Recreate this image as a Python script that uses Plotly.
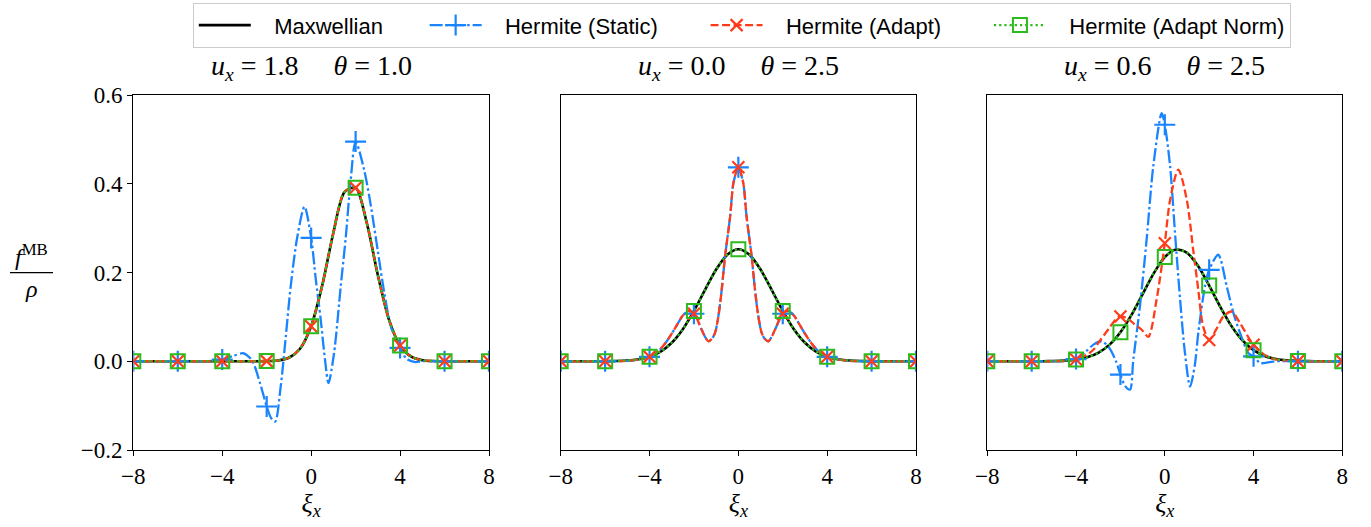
import plotly.graph_objects as go

# ---------------- data ----------------
PANEL_TITLES = ["<i>u</i><sub><i>x</i></sub> = 1.8\u2003\u00a0<i>θ</i> = 1.0",
                "<i>u</i><sub><i>x</i></sub> = 0.0\u2003\u00a0<i>θ</i> = 2.5",
                "<i>u</i><sub><i>x</i></sub> = 0.6\u2003\u00a0<i>θ</i> = 2.5"]
SERIES_NAMES = ["Maxwellian", "Hermite (Static)", "Hermite (Adapt)", "Hermite (Adapt Norm)"]
X_TICKS = [-8, -4, 0, 4, 8]
Y_TICKS = [-0.2, 0.0, 0.2, 0.4, 0.6]

# common half-unit grid for the smooth Maxwellian-like curves
GRID_X = [-8, -7.5, -7, -6.5, -6, -5.5, -5, -4.5, -4, -3.5, -3, -2.5, -2, -1.5, -1, -0.5,
          0, 0.5, 1, 1.5, 2, 2.5, 3, 3.5, 4, 4.5, 5, 5.5, 6, 6.5, 7, 7.5, 8]

# panel 1 : u=1.8, theta=1.0
MAXW_1 = [0, 0, 0, 0, 0, 0, 0, 0, 0, 0, 0, 0, 0.0003, 0.0017, 0.0079, 0.0283,
          0.0790, 0.1714, 0.2897, 0.3813, 0.3910, 0.3122, 0.1942, 0.0940, 0.0355, 0.0104,
          0.0024, 0.0004, 0, 0, 0, 0, 0]
ADAPT_1 = [0, 0, 0, 0, 0, 0, 0, 0, 0, 0, 0, 0, 0.0003, 0.0017, 0.0079, 0.0283,
           0.0790, 0.1714, 0.2897, 0.3813, 0.3910, 0.3122, 0.1942, 0.0940, 0.0355, 0.0104,
           0.0024, 0.0004, 0, 0, 0, 0, 0]
NORM_1 = [0, 0, 0, 0, 0, 0, 0, 0, 0, 0, 0, 0, 0.0003, 0.0017, 0.0079, 0.0283,
          0.0790, 0.1714, 0.2897, 0.3813, 0.3910, 0.3122, 0.1942, 0.0940, 0.0355, 0.0104,
          0.0024, 0.0004, 0, 0, 0, 0, 0]
STAT_1_X = [-8, -6, -5, -4.5, -4, -3.5, -3.05, -2.8, -2.6, -2.3, -2.0, -1.8, -1.62, -1.37,
            -1.14, -0.92, -0.62, -0.3, 0, 0.21, 0.43, 0.62, 0.78, 1.03, 1.33, 1.56, 1.78,
            2.0, 2.38, 2.69, 2.99, 3.29, 3.59, 4.0, 4.3, 4.7, 5, 6, 8]
STAT_1_Y = [0, 0, 0, 0.001, 0.004, 0.012, 0.018, 0.01, -0.004, -0.049, -0.102, -0.128,
            -0.136, -0.057, 0.056, 0.169, 0.281, 0.348, 0.278, 0.184, 0.094, 0.005, -0.049,
            0.018, 0.169, 0.281, 0.409, 0.495, 0.432, 0.349, 0.251, 0.154, 0.078, 0.03,
            0.005, -0.002, 0, 0, 0]

# panel 2 : u=0.0, theta=2.5
MAXW_2 = [0, 0, 0, 0, 0.0002, 0.0006, 0.0017, 0.0044, 0.0103, 0.0218, 0.0417, 0.0723,
          0.1134, 0.1609, 0.2066, 0.2400, 0.2523, 0.2400, 0.2066, 0.1609, 0.1134, 0.0723,
          0.0417, 0.0218, 0.0103, 0.0044, 0.0017, 0.0006, 0.0002, 0, 0, 0, 0]
NORM_2 = [0, 0, 0, 0, 0.0002, 0.0006, 0.0017, 0.0044, 0.0103, 0.0218, 0.0417, 0.0723,
          0.1134, 0.1609, 0.2066, 0.2400, 0.2523, 0.2400, 0.2066, 0.1609, 0.1134, 0.0723,
          0.0417, 0.0218, 0.0103, 0.0044, 0.0017, 0.0006, 0.0002, 0, 0, 0, 0]
STAT_2_X = [-8, -6, -5, -4.5, -4, -3.6, -3.3, -3, -2.75, -2.5, -2.25, -2, -1.65, -1.5,
            -1.35, -1.2, -1.05, -0.9, -0.75, -0.6, -0.37, -0.22, 0, 0.22, 0.37, 0.6, 0.75,
            0.9, 1.05, 1.2, 1.35, 1.5, 1.65, 2, 2.25, 2.5, 2.75, 3, 3.3, 3.6, 4, 4.5, 5, 6, 8]
STAT_2_Y = [0, 0, 0.001, 0.004, 0.01, 0.023, 0.04, 0.062, 0.083, 0.103, 0.113, 0.107,
            0.071, 0.055, 0.045, 0.05, 0.064, 0.101, 0.161, 0.236, 0.326, 0.402, 0.437,
            0.402, 0.326, 0.236, 0.161, 0.101, 0.064, 0.05, 0.045, 0.055, 0.071, 0.107,
            0.113, 0.103, 0.083, 0.062, 0.04, 0.023, 0.01, 0.004, 0.001, 0, 0]
ADAPT_2_X = list(STAT_2_X)
ADAPT_2_Y = list(STAT_2_Y)

# panel 3 : u=0.6, theta=2.5
MAXW_3 = [0, 0, 0, 0, 0, 0.0001, 0.0005, 0.0014, 0.0037, 0.0088, 0.0189, 0.0369,
          0.0653, 0.1045, 0.1512, 0.1981, 0.2348, 0.2518, 0.2444, 0.2146, 0.1705, 0.1226,
          0.0797, 0.0469, 0.0250, 0.0120, 0.0052, 0.0021, 0.0007, 0.0002, 0, 0, 0]
NORM_3 = [0, 0, 0, 0, 0, 0.0001, 0.0005, 0.0014, 0.0037, 0.0088, 0.0189, 0.0369,
          0.0653, 0.1045, 0.1512, 0.1981, 0.2348, 0.2518, 0.2444, 0.2146, 0.1705, 0.1226,
          0.0797, 0.0469, 0.0250, 0.0120, 0.0052, 0.0021, 0.0007, 0.0002, 0, 0, 0]
STAT_3_X = [-8, -6, -5, -4.5, -4, -3.6, -3.2, -2.84, -2.5, -2.2, -2.0, -1.8, -1.57, -1.42,
            -1.12, -0.82, -0.52, -0.14, 0, 0.24, 0.46, 0.69, 0.91, 1.14, 1.35, 1.51, 1.81,
            2.0, 2.41, 2.79, 3.09, 3.39, 3.77, 4.0, 4.3, 4.7, 5, 6, 8]
STAT_3_Y = [0, 0, 0, 0.001, 0.005, 0.02, 0.038, 0.045, 0.03, 0.0, -0.03, -0.055, -0.064,
            0.003, 0.124, 0.274, 0.439, 0.559, 0.533, 0.439, 0.289, 0.139, 0.018, -0.057,
            -0.01, 0.064, 0.169, 0.206, 0.24, 0.169, 0.109, 0.064, 0.018, 0.011, -0.004,
            -0.002, 0, 0, 0]
ADAPT_3_X = [-8, -6, -5, -4.5, -4, -3.5, -3.2, -2.9, -2.5, -2.2, -2.0, -1.7, -1.4, -1.04,
             -0.74, -0.37, -0.14, 0, 0.24, 0.61, 0.99, 1.28, 1.51, 1.73, 2.0, 2.3, 2.64,
             3.01, 3.39, 3.84, 4.0, 4.5, 5, 6, 8]
ADAPT_3_Y = [0, 0, 0, 0.001, 0.004, 0.015, 0.027, 0.048, 0.075, 0.095, 0.101, 0.097,
             0.085, 0.071, 0.055, 0.139, 0.214, 0.266, 0.364, 0.432, 0.364, 0.251, 0.161,
             0.078, 0.048, 0.07, 0.101, 0.112, 0.086, 0.048, 0.037, 0.014, 0.004, 0, 0]

# ---------------- style ----------------
W, H = 1371, 527
BLACK, BLUE, RED, GREEN = "#000000", "#1a84ff", "#ff3b1a", "#2cbb1c"
SERIF = "Liberation Serif"
SANS = "Liberation Sans"

STYLES = [
    dict(color=BLACK, dash="solid", width=2.6, symbol=None, msize=0, mlw=0),
    dict(color=BLUE, dash="13px,3px,2.5px,3px", width=2.3, symbol="cross-thin", msize=15, mlw=2.2),
    dict(color=RED, dash="8px,3.5px", width=2.3, symbol="x-thin", msize=12, mlw=2.2),
    dict(color=GREEN, dash="2.2px,3px", width=2.3, symbol="square-open", msize=14, mlw=2),
]
# legend spacing (non-breaking spaces before / after each entry)
LEGEND_LEAD = 3
LEGEND_PAD = [6, 7, 7, 0]

panels = [
    [(GRID_X, MAXW_1), (STAT_1_X, STAT_1_Y), (GRID_X, ADAPT_1), (GRID_X, NORM_1)],
    [(GRID_X, MAXW_2), (STAT_2_X, STAT_2_Y), (ADAPT_2_X, ADAPT_2_Y), (GRID_X, NORM_2)],
    [(GRID_X, MAXW_3), (STAT_3_X, STAT_3_Y), (ADAPT_3_X, ADAPT_3_Y), (GRID_X, NORM_3)],
]

X_PIX = [(133.3, 489.0), (560.7, 916.0), (987.3, 1342.3)]
Y_PIX = (95, 450)

fig = go.Figure()

for p, series in enumerate(panels):
    xa = "x" if p == 0 else f"x{p+1}"
    ya = "y" if p == 0 else f"y{p+1}"
    for s, (xs, ys) in enumerate(series):
        st = STYLES[s]
        fig.add_trace(go.Scatter(
            x=xs, y=ys, mode="lines", xaxis=xa, yaxis=ya, showlegend=False,
            line=dict(color=st["color"], dash=st["dash"], width=st["width"],
                      shape="spline", smoothing=0.8),
            hoverinfo="skip"))
    for s, (xs, ys) in enumerate(series):
        st = STYLES[s]
        if st["symbol"] is None:
            continue
        mx = [x for x in xs if abs(x % 2) < 1e-9]
        my = [y for x, y in zip(xs, ys) if abs(x % 2) < 1e-9]
        fig.add_trace(go.Scatter(
            x=mx, y=my, mode="markers", xaxis=xa, yaxis=ya, showlegend=False,
            marker=dict(symbol=st["symbol"], size=st["msize"], color=st["color"],
                        line=dict(color=st["color"], width=st["mlw"])),
            hoverinfo="skip"))

# legend entries
for s, name in enumerate(SERIES_NAMES):
    st = STYLES[s]
    kw = dict(mode="lines")
    if st["symbol"] is not None:
        kw = dict(mode="lines+markers",
                  marker=dict(symbol=st["symbol"], size=st["msize"], color=st["color"],
                              line=dict(color=st["color"], width=st["mlw"])))
    label = "\u00a0" * LEGEND_LEAD + name + "\u00a0" * LEGEND_PAD[s]
    fig.add_trace(go.Scatter(x=[None], y=[None], name=label, showlegend=True,
                             line=dict(color=st["color"], dash=st["dash"], width=st["width"]),
                             **kw))

axis_common = dict(showline=True, mirror=True, linecolor="black", linewidth=1.3,
                   showgrid=False, zeroline=False, ticks="outside", ticklen=5,
                   tickwidth=1.3, tickcolor="black",
                   tickfont=dict(family=SERIF, size=23, color="black"))

layout = dict(width=W, height=H, margin=dict(l=0, r=0, t=0, b=0), autosize=False,
              plot_bgcolor="white", paper_bgcolor="white",
              font=dict(family=SERIF, color="black"))

for p in range(3):
    xk = "xaxis" if p == 0 else f"xaxis{p+1}"
    yk = "yaxis" if p == 0 else f"yaxis{p+1}"
    xd = [X_PIX[p][0] / W, X_PIX[p][1] / W]
    yd = [1 - Y_PIX[1] / H, 1 - Y_PIX[0] / H]
    layout[xk] = dict(axis_common, domain=xd, range=[-8, 8], tickvals=X_TICKS,
                      anchor="y" if p == 0 else f"y{p+1}",
                      title=dict(text="<i>ξ</i><sub><i>x</i></sub>",
                                 font=dict(family=SERIF, size=26), standoff=2),
                      automargin=False)
    yax = dict(axis_common, domain=yd, range=[-0.2, 0.6], tickvals=Y_TICKS,
               tickformat=".1f", anchor="x" if p == 0 else f"x{p+1}", automargin=False)
    if p > 0:
        yax.update(showticklabels=False, ticks="")
    layout[yk] = yax

fig.update_layout(**layout)

fig.update_layout(legend=dict(
    orientation="h", x=742 / W, xanchor="center", y=1 - 3 / H, yanchor="top",
    bordercolor="#cccccc", borderwidth=1.3, bgcolor="white",
    font=dict(family=SANS, size=22, color="black"),
    itemwidth=52, tracegroupgap=0))

# panel titles
for p in range(3):
    cx = (X_PIX[p][0] + X_PIX[p][1]) / 2 / W
    fig.add_annotation(text=PANEL_TITLES[p], x=cx, y=1 - 67 / H, xref="paper", yref="paper",
                       xanchor="center", yanchor="middle", showarrow=False,
                       font=dict(family=SERIF, size=28, color="black"))

# y label as a fraction f^MB / rho
BAR_Y = 1 - 272.7 / H
fig.add_annotation(text="<i>f</i><sup>MB</sup>", x=31 / W, y=BAR_Y + 1 / H, xref="paper",
                   yref="paper", xanchor="center", yanchor="bottom", showarrow=False,
                   font=dict(family=SERIF, size=24, color="black"))
fig.add_annotation(text="<i>ρ</i>", x=31 / W, y=BAR_Y - 1 / H, xref="paper", yref="paper",
                   xanchor="center", yanchor="top", showarrow=False,
                   font=dict(family=SERIF, size=24, color="black"))
fig.add_shape(type="line", xref="paper", yref="paper", x0=10 / W, x1=53 / W,
              y0=BAR_Y, y1=BAR_Y, line=dict(color="black", width=1.3))

fig.write_html("out.html")
